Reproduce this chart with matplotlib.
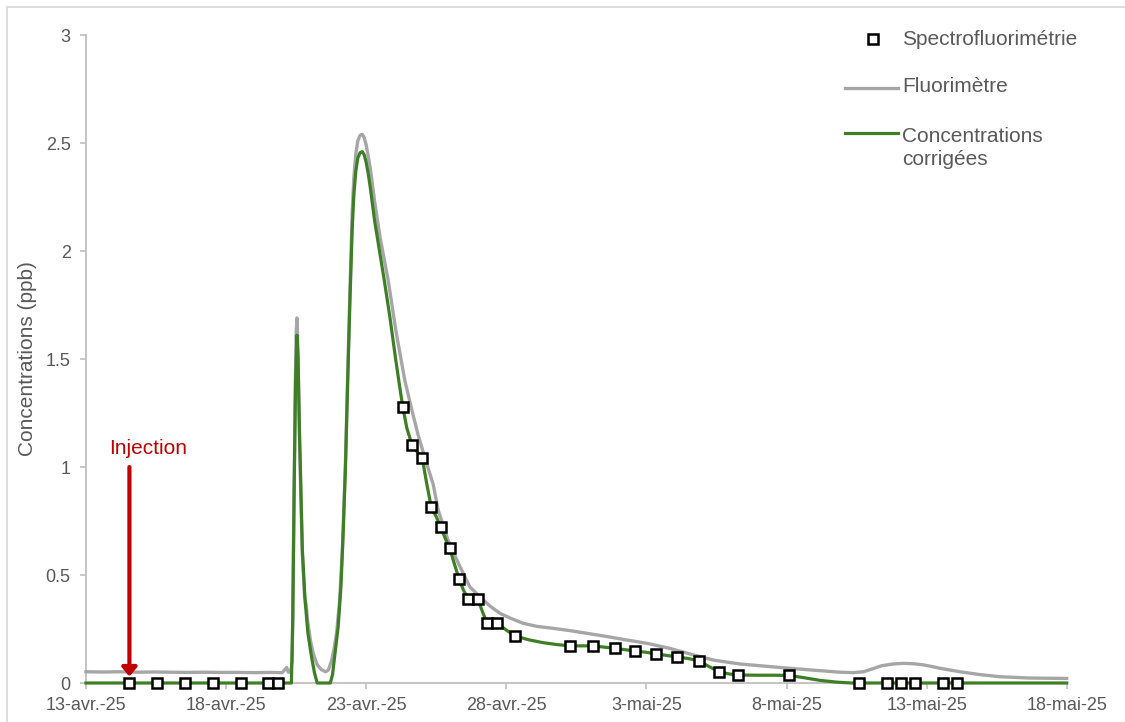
import numpy as np
import pandas as pd
import matplotlib
matplotlib.use("Agg")
import matplotlib.pyplot as plt
from matplotlib.lines import Line2D
from matplotlib.patches import Rectangle

plt.rcParams["font.family"] = ["Liberation Sans", "DejaVu Sans"]

START = pd.Timestamp("2025-04-13")

# Spectrofluorimetry samples (days after 13 April 2025, ppb)
spectro_days = [1.55, 2.52, 3.53, 4.52, 5.52, 6.48, 6.84,
                11.30, 11.65, 12.00, 12.32, 12.66, 12.98, 13.31, 13.63, 13.98,
                14.31, 14.66, 15.31, 17.27, 18.10, 18.87, 19.60, 20.35, 21.10,
                21.87, 22.60, 23.27, 25.10,
                27.59, 28.59, 29.09, 29.59, 30.60, 31.09]
spectro_ppb = [0, 0, 0, 0, 0, 0, 0,
               1.28, 1.10, 1.04, 0.815, 0.72, 0.625, 0.483, 0.39, 0.39,
               0.278, 0.278, 0.218, 0.172, 0.172, 0.160, 0.148, 0.135, 0.121,
               0.103, 0.052, 0.037, 0.035,
               0, 0, 0, 0, 0, 0]

# Field fluorimeter record
fluo_days = [0.0, 0.6, 1.2, 1.8, 2.4, 3.0, 3.6, 4.2, 4.8, 5.4, 6.0, 6.6, 7.00,
             7.10, 7.16, 7.22, 7.30, 7.36, 7.41, 7.46, 7.50, 7.53, 7.56, 7.61,
             7.66, 7.72, 7.80, 7.86, 7.90, 7.95, 8.02, 8.11, 8.25, 8.40, 8.55,
             8.65, 8.77, 8.87, 8.95, 9.05, 9.15, 9.26, 9.33, 9.42, 9.50, 9.56,
             9.63, 9.70, 9.78, 9.86, 9.93, 10.00, 10.07, 10.15, 10.30, 10.50,
             10.79, 11.06, 11.38, 11.63, 11.85, 12.10, 12.39, 12.57, 12.92,
             13.29, 13.70, 14.06, 14.42, 14.78, 15.13, 15.61, 16.10, 16.68,
             17.30, 17.87, 18.60, 19.30, 20.01, 20.84, 21.60, 22.39, 23.34,
             24.40, 25.12, 26.20, 26.90, 27.38, 27.75, 28.05, 28.40, 28.80,
             29.17, 29.55, 29.88, 30.20, 30.48, 31.19, 31.90, 32.62, 33.69,
             34.40, 35.00]
fluo_ppb = [0.052, 0.051, 0.052, 0.050, 0.051, 0.050, 0.049, 0.050, 0.049,
            0.049, 0.048, 0.049, 0.048, 0.062, 0.072, 0.050, 0.052, 0.10, 0.70,
            1.30, 1.62, 1.69, 1.55, 1.20, 0.90, 0.60, 0.40, 0.36, 0.30, 0.25,
            0.19, 0.137, 0.085, 0.062, 0.052, 0.060, 0.106, 0.17, 0.24, 0.38,
            0.62, 1.02, 1.38, 1.82, 2.18, 2.34, 2.45, 2.51, 2.535, 2.54, 2.525,
            2.49, 2.44, 2.38, 2.23, 2.06, 1.86, 1.63, 1.40, 1.263, 1.15, 1.04,
            0.92, 0.80, 0.661, 0.554, 0.445, 0.399, 0.356, 0.322, 0.301, 0.276,
            0.262, 0.253, 0.242, 0.230, 0.215, 0.199, 0.184, 0.160, 0.133,
            0.106, 0.088, 0.076, 0.068, 0.057, 0.050, 0.048, 0.052, 0.065,
            0.080, 0.088, 0.091, 0.089, 0.084, 0.076, 0.068, 0.052, 0.039,
            0.029, 0.023, 0.022, 0.021]

# Corrected concentrations
corr_days = [0.0, 7.33, 7.38, 7.43, 7.48, 7.53, 7.57, 7.62, 7.66, 7.72, 7.82,
             7.92, 8.05, 8.15, 8.25, 8.72, 8.80, 8.88, 9.00, 9.10, 9.18, 9.26,
             9.33, 9.42, 9.50, 9.56, 9.63, 9.70, 9.78, 9.86, 9.93, 10.00, 10.07,
             10.15, 10.30, 10.50, 10.65, 10.85, 11.05, 11.22, 11.30, 11.45,
             11.65, 11.82, 12.00, 12.15, 12.32, 12.50, 12.66, 12.82, 12.98,
             13.15, 13.31, 13.47, 13.63, 13.80, 13.98, 14.15, 14.31, 14.50,
             14.66, 15.00, 15.31, 15.80, 16.30, 16.80, 17.27, 17.70, 18.10,
             18.50, 18.87, 19.25, 19.60, 20.00, 20.35, 20.70, 21.10, 21.50,
             21.87, 22.25, 22.60, 22.95, 23.27, 24.00, 24.60, 25.10, 25.60,
             26.20, 26.80, 27.30, 35.00]
corr_ppb = [0, 0, 0.30, 0.90, 1.40, 1.61, 1.50, 1.15, 0.95, 0.62, 0.38, 0.23,
            0.12, 0.05, 0.0, 0.0, 0.04, 0.13, 0.26, 0.45, 0.70, 1.00, 1.35,
            1.77, 2.10, 2.26, 2.37, 2.43, 2.455, 2.46, 2.445, 2.41, 2.36, 2.29,
            2.14, 1.98, 1.86, 1.69, 1.50, 1.35, 1.283, 1.18, 1.096, 1.07,
            1.042, 0.93, 0.815, 0.77, 0.722, 0.67, 0.624, 0.55, 0.483, 0.43,
            0.391, 0.39, 0.391, 0.33, 0.278, 0.278, 0.278, 0.245, 0.218, 0.200,
            0.187, 0.178, 0.172, 0.172, 0.172, 0.166, 0.160, 0.154, 0.148,
            0.142, 0.135, 0.128, 0.121, 0.113, 0.103, 0.075, 0.052, 0.042,
            0.037, 0.036, 0.036, 0.035, 0.025, 0.012, 0.004, 0.0, 0.0]

injection_day = 1.55
injection_top = 1.0
injection_tip = 0.03

x_tick_days = [0, 5, 10, 15, 20, 25, 30, 35]
x_tick_labels = ["13-avr.-25", "18-avr.-25", "23-avr.-25", "28-avr.-25",
                 "3-mai-25", "8-mai-25", "13-mai-25", "18-mai-25"]
y_ticks = [0, 0.5, 1, 1.5, 2, 2.5, 3]
y_tick_labels = ["0", "0.5", "1", "1.5", "2", "2.5", "3"]


def to_dates(days):
    return START + pd.to_timedelta(np.asarray(days, dtype=float), unit="D")


GREY = "#A6A6A6"
GREEN = "#3E7F26"
TEXT = "#595959"
AXIS = "#BFBFBF"
RED = "#C00000"

MS = 7.2     # square marker size
MEW = 1.8    # square marker edge width

fig = plt.figure(figsize=(11.25, 7.22), dpi=100)
W, H = 1125, 722
ax = fig.add_axes([86 / W, 1 - 683 / H, 980.7 / W, 648 / H])

# outer chart-area frame (left and top edges visible)
fig.add_artist(Rectangle((7 / W, -0.2), 1.5, 1 - 7 / H + 0.2,
                         transform=fig.transFigure, fill=False,
                         edgecolor="#D9D9D9", lw=1.3))

ax.plot(to_dates(fluo_days), fluo_ppb, color=GREY, lw=2.4,
        solid_joinstyle="round", zorder=3, clip_on=False)
ax.plot(to_dates(corr_days), corr_ppb, color=GREEN, lw=2.3,
        solid_joinstyle="round", zorder=4, clip_on=False)
ax.plot(to_dates(spectro_days), spectro_ppb, linestyle="none", marker="s",
        markersize=MS, markerfacecolor="white", markeredgecolor="black",
        markeredgewidth=MEW, zorder=5, clip_on=False)

# injection arrow
inj = to_dates([injection_day])[0]
ax.annotate("", xy=(inj, injection_tip), xytext=(inj, injection_top),
            arrowprops=dict(arrowstyle="-|>,head_length=0.5,head_width=0.42",
                            color=RED, lw=3.0, mutation_scale=10.5,
                            shrinkA=0, shrinkB=0), zorder=6)
ax.text(to_dates([injection_day + 0.68])[0], injection_top + 0.085,
        "Injection", color=RED, fontsize=15, ha="center", va="center")

ax.set_xlim(to_dates([0])[0], to_dates([35])[0])
ax.set_ylim(0, 3)
ax.set_xticks(to_dates(x_tick_days))
ax.set_xticklabels(x_tick_labels)
ax.set_yticks(y_ticks)
ax.set_yticklabels(y_tick_labels)
ax.tick_params(axis="both", colors=AXIS, labelcolor=TEXT, labelsize=13,
               length=4, width=1.2, direction="out")
ax.tick_params(axis="y", pad=7)
ax.tick_params(axis="x", pad=6)

for side in ("top", "right"):
    ax.spines[side].set_visible(False)
for side in ("left", "bottom"):
    ax.spines[side].set_color(AXIS)
    ax.spines[side].set_linewidth(1.3)

ax.set_ylabel("Concentrations (ppb)", fontsize=15, color=TEXT, labelpad=6)

# legend drawn in axes fractions
T = ax.transAxes
ax.add_line(Line2D([0.8025], [0.9938], marker="s", markersize=MS - 0.4,
                   markerfacecolor="white", markeredgecolor="black",
                   markeredgewidth=MEW, transform=T, clip_on=False))
ax.add_line(Line2D([0.774, 0.828], [0.918, 0.918], color=GREY, lw=2.4,
                   transform=T, clip_on=False))
ax.add_line(Line2D([0.774, 0.828], [0.849, 0.849], color=GREEN, lw=2.3,
                   transform=T, clip_on=False))
ax.text(0.832, 0.9938, "Spectrofluorimétrie", transform=T, fontsize=15,
        color=TEXT, ha="left", va="center")
ax.text(0.832, 0.920, "Fluorimètre", transform=T, fontsize=15,
        color=TEXT, ha="left", va="center")
ax.text(0.832, 0.826, "Concentrations\ncorrigées", transform=T, fontsize=15,
        color=TEXT, ha="left", va="center", linespacing=1.25)

fig.savefig("out.png", dpi=100)
